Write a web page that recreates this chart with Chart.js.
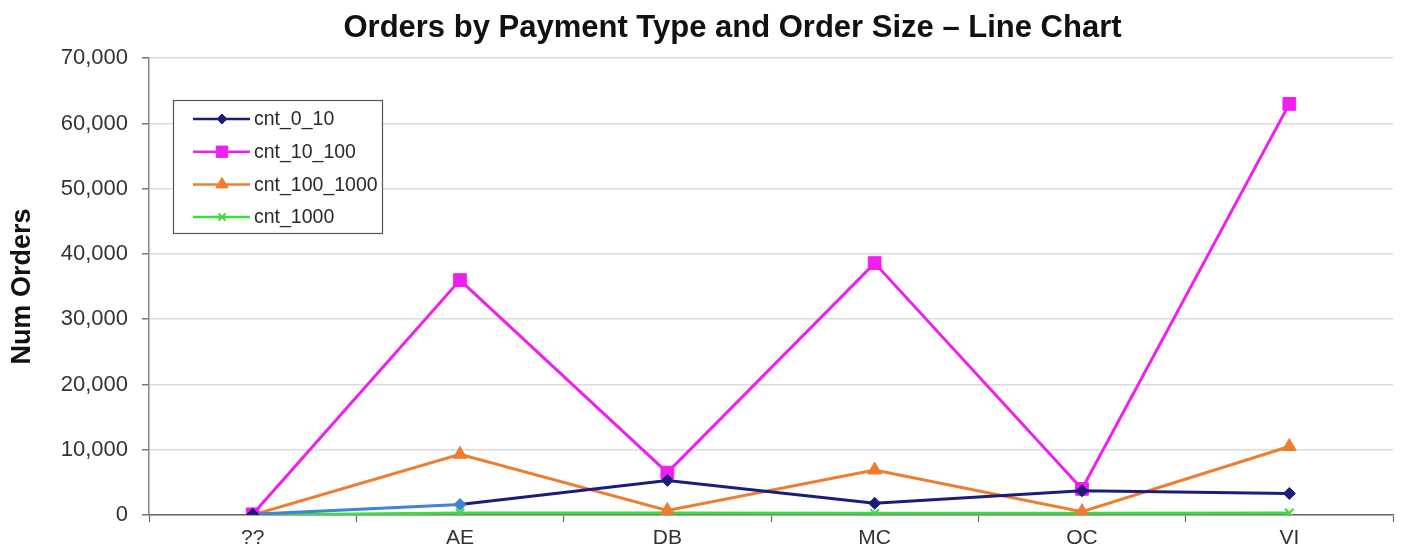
<!DOCTYPE html>
<html>
<head>
<meta charset="utf-8">
<script src="https://cdn.jsdelivr.net/npm/chart.js@4/dist/chart.umd.min.js"></script>
<style>
  html, body { margin: 0; padding: 0; background: #fff; }
  #wrap { width: 1407px; height: 555px; position: relative; }
</style>
</head>
<body>
<div id="wrap"><canvas id="c" width="1407" height="555"></canvas></div>
<script>
// Payment types on the x axis
const categories = ['??', 'AE', 'DB', 'MC', 'OC', 'VI'];

// Order counts per size bucket
const cnt_0_10     = [100, 1600, 5300, 1800, 3700, 3300];
const cnt_10_100   = [100, 36000, 6500, 38600, 4000, 63000];
const cnt_100_1000 = [0, 9300, 700, 6900, 500, 10500];
const cnt_1000     = [0, 300, 300, 250, 250, 300];

// Value axis range and step
const yMin = 0;
const yMax = 70000;
const yStep = 10000;

const FONT = '"Liberation Sans", Arial, sans-serif';

function series(label, data, color, pointStyle, radius) {
  return {
    label, data,
    borderColor: color,
    backgroundColor: color,
    borderWidth: 3,
    pointStyle,
    pointRadius: radius,
    pointHoverRadius: radius,
    pointBorderWidth: pointStyle === 'crossRot' ? 2 : 1,
    tension: 0
  };
}

// cnt_0_10: first segment and AE marker are a lighter blue
const navy = series('cnt_0_10', cnt_0_10, '#1c1c7c', 'rectRot', 6);
navy.segment = { borderColor: c => c.p0DataIndex === 0 ? '#3d86d6' : undefined };
navy.pointBackgroundColor = cnt_0_10.map((_, i) => i === 1 ? '#3d86d6' : '#1c1c7c');
navy.pointBorderColor = navy.pointBackgroundColor;

// Title sits a little right of the canvas centre
const titleShift = {
  id: 'titleShift',
  afterLayout(chart) {
    if (chart.titleBlock) chart.titleBlock.left = 72;
  }
};

// Boxed legend with line + marker samples, drawn inside the plot area
const boxedLegend = {
  id: 'boxedLegend',
  afterDatasetsDraw(chart) {
    const ctx = chart.ctx;
    const x0 = 173, y0 = 100, w = 209, h = 133;
    ctx.save();
    ctx.fillStyle = '#ffffff';
    ctx.fillRect(x0, y0, w, h);
    ctx.strokeStyle = '#555555';
    ctx.lineWidth = 1.2;
    ctx.strokeRect(x0 + 0.5, y0 + 0.5, w, h);
    ctx.font = '19.5px ' + FONT;
    ctx.textBaseline = 'middle';
    ctx.textAlign = 'left';
    chart.data.datasets.forEach((ds, i) => {
      const y = 119 + i * 32.7;
      ctx.strokeStyle = ds.borderColor;
      ctx.lineWidth = 2.5;
      ctx.beginPath();
      ctx.moveTo(193, y);
      ctx.lineTo(250, y);
      ctx.stroke();
      const opts = {
        pointStyle: ds.pointStyle,
        radius: Math.max(ds.pointRadius - 1, 4),
        rotation: 0,
        borderWidth: ds.pointBorderWidth
      };
      ctx.fillStyle = ds.backgroundColor;
      ctx.strokeStyle = ds.borderColor;
      ctx.lineWidth = ds.pointBorderWidth;
      Chart.helpers.drawPoint(ctx, opts, 222, y);
      ctx.fillStyle = '#2a2a2a';
      ctx.fillText(ds.label, 254, y + 1);
    });
    ctx.restore();
  }
};

new Chart(document.getElementById('c'), {
  type: 'line',
  data: {
    labels: categories,
    datasets: [
      navy,
      series('cnt_10_100', cnt_10_100, '#f01ef0', 'rect', 9),
      series('cnt_100_1000', cnt_100_1000, '#ee7d30', 'triangle', 8),
      series('cnt_1000', cnt_1000, '#3ddc3d', 'crossRot', 6)
    ]
  },
  options: {
    responsive: false,
    animation: false,
    events: [],
    layout: { padding: { left: 0, right: 14, top: 0, bottom: 0 } },
    plugins: {
      legend: { display: false },
      tooltip: { enabled: false },
      title: {
        display: true,
        text: 'Orders by Payment Type and Order Size \u2013 Line Chart',
        color: '#111111',
        font: { family: FONT, size: 31, weight: 'bold' },
        padding: { top: 10, bottom: 11 }
      }
    },
    scales: {
      x: {
        type: 'category',
        offset: true,
        grid: {
          offset: true,
          drawOnChartArea: false,
          drawTicks: true,
          tickLength: 7,
          tickColor: '#666666',
          tickWidth: 1.2
        },
        border: { color: '#666666', width: 1.5 },
        ticks: {
          color: '#333333',
          font: { family: FONT, size: 21 },
          padding: 4
        },
        afterFit(scale) { scale.height = 40; }
      },
      y: {
        min: yMin,
        max: yMax,
        ticks: {
          stepSize: yStep,
          color: '#333333',
          font: { family: FONT, size: 22 },
          padding: 14,
          callback: v => v.toLocaleString('en-US')
        },
        grid: {
          color: '#dcdcdc',
          lineWidth: 1.5,
          drawTicks: true,
          tickLength: 7,
          tickColor: '#777777'
        },
        border: { color: '#888888', width: 1.5 },
        title: {
          display: true,
          text: 'Num Orders',
          color: '#111111',
          font: { family: FONT, size: 27, weight: 'bold' },
          padding: { top: 6, bottom: 0 }
        },
        afterFit(scale) { scale.width = 149; }
      }
    }
  },
  plugins: [titleShift, boxedLegend]
});
</script>
</body>
</html>
